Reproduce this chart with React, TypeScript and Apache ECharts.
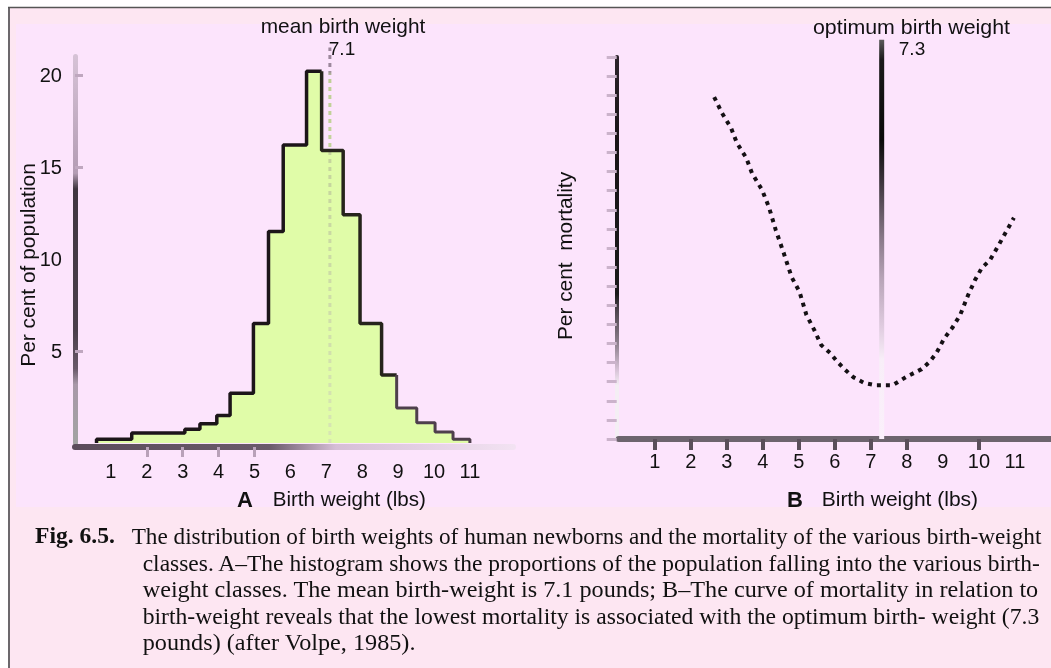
import React, { useEffect, useRef } from 'react';
import * as echarts from 'echarts';

// ---------- Panel A: distribution of birth weights ----------
const weightTickValues = [1, 2, 3, 4, 5, 6, 7, 8, 9, 10, 11];
const histEdges = [0.6, 1.58, 3.06, 3.48, 3.95, 4.32, 4.97, 5.39, 5.8, 6.45, 6.87, 7.47, 7.94, 8.54, 8.96, 9.52, 10.03, 10.53, 11.0];
const histValues = [0.2, 0.55, 0.75, 1.05, 1.5, 2.7, 6.5, 11.5, 16.2, 20.2, 15.9, 12.4, 6.5, 3.7, 1.9, 1.1, 0.6, 0.2];
const populationTickValues = [5, 10, 15, 20];
const meanWeight = 7.1;

// ---------- Panel B: mortality against birth weight ----------
const mortalityWeights = [2.65, 2.87, 3.12, 3.28, 3.54, 3.7, 3.98, 4.17, 4.36, 4.58, 4.8, 5.02, 5.21, 5.43, 5.62, 5.87, 6.07, 6.29, 6.51, 6.81, 7.12, 7.61, 7.97, 8.41, 8.63, 8.82, 9.04, 9.26, 9.48, 9.7, 9.89, 10.08, 10.31, 10.55, 10.78, 10.97];
const mortalityPercent = [8.95, 8.53, 8.14, 7.75, 7.36, 6.96, 6.52, 6.07, 5.47, 4.87, 4.24, 3.85, 3.25, 2.85, 2.46, 2.25, 2.02, 1.81, 1.62, 1.47, 1.41, 1.41, 1.62, 1.83, 2.02, 2.25, 2.64, 2.91, 3.25, 3.77, 4.16, 4.48, 4.69, 5.08, 5.47, 5.79];
const optimumWeight = 7.3;

// ---------- Texts ----------
const titleA = 'mean birth weight';
const titleB = 'optimum birth weight';
const yNameA = 'Per cent of population';
const yNameB = 'Per cent  mortality';
const xName = 'Birth weight (lbs)';
const figLabel = 'Fig. 6.5.';
const captionLines = [
  'The distribution of birth weights of human newborns and the mortality of the various birth-weight',
  'classes. A\u2013The histogram shows the proportions of the population falling into the various birth-',
  'weight classes. The mean birth-weight is 7.1 pounds; B\u2013The curve of mortality in relation to',
  'birth-weight reveals that the lowest mortality is associated with the optimum birth- weight (7.3',
  'pounds) (after Volpe, 1985).',
];

const SANS = "'Liberation Sans', Arial, sans-serif";
const SERIF = "'Liberation Serif', 'Times New Roman', serif";

function stepOutline(from: number, to: number, closeToZero: boolean) {
  const pts: number[][] = [];
  const prev = from > 0 ? histValues[from - 1] : 0;
  pts.push([histEdges[from], prev]);
  for (let i = from; i <= to; i++) pts.push([histEdges[i], histValues[i]]);
  pts.push([histEdges[to + 1], histValues[to]]);
  if (closeToZero) pts.push([histEdges[to + 1], 0]);
  return pts;
}

let measureCtx: CanvasRenderingContext2D | null = null;
function fitScale(text: string, font: string, target: number) {
  if (!measureCtx) measureCtx = document.createElement('canvas').getContext('2d');
  if (!measureCtx) return 1;
  measureCtx.font = font;
  const w = measureCtx.measureText(text).width;
  return w > 0 ? target / w : 1;
}

function textEl(text: string, x: number, y: number, font: string, align: string, extra: any = {}) {
  return {
    type: 'text',
    x,
    y,
    z: 100,
    ...extra,
    style: {
      text,
      font,
      fill: '#111111',
      textAlign: align,
      textVerticalAlign: 'middle',
      align,
      verticalAlign: 'middle',
    },
  };
}

function fittedText(text: string, x0: number, x1: number, y: number, font: string) {
  const s = fitScale(text, font, x1 - x0);
  return textEl(text, x0, y, font, 'left', { scaleX: s });
}

function fittedCenter(text: string, cx: number, width: number, y: number, font: string, rotation = 0) {
  const s = fitScale(text, font, width);
  return textEl(text, cx, y, font, 'center', { scaleX: s, rotation });
}

export default function App() {
  const ref = useRef<HTMLDivElement>(null);

  useEffect(() => {
    if (!ref.current) return;
    const chart = echarts.init(ref.current, null, { renderer: 'svg' });
    const G = echarts.graphic.LinearGradient;

    const axisAY = new G(0, 56, 0, 447, [
      { offset: 0, color: '#d6c2d6' },
      { offset: 0.3, color: '#b49cb4' },
      { offset: 0.34, color: '#403640' },
      { offset: 0.7, color: '#4a3e4a' },
      { offset: 0.8, color: '#6a5a6a' },
      { offset: 0.84, color: '#a898a8' },
      { offset: 1, color: '#a2a4a2' },
    ], true);
    const axisAX = new G(70, 0, 513, 0, [
      { offset: 0, color: '#5b4c5b' },
      { offset: 0.45, color: '#6a5a6a' },
      { offset: 0.6, color: '#d6bed6' },
      { offset: 1, color: '#f2e2f2' },
    ], true);
    const axisBY = new G(0, 57, 0, 439, [
      { offset: 0, color: '#2c242b' },
      { offset: 0.2, color: '#1a1418' },
      { offset: 0.62, color: '#1a1a1a' },
      { offset: 0.66, color: '#4a424a' },
      { offset: 0.75, color: '#8e808e' },
      { offset: 0.82, color: '#d8c4d8' },
      { offset: 0.86, color: '#f4eef4' },
      { offset: 1, color: '#f4eef4' },
    ], true);
    const meanGrad = new G(0, 47, 0, 443, [
      { offset: 0, color: '#9c889c' },
      { offset: 0.06, color: '#9c889c' },
      { offset: 0.075, color: '#bfcf96' },
      { offset: 1, color: '#d8e6b4' },
    ], true);
    const optGrad = new G(0, 40, 0, 439, [
      { offset: 0, color: '#5a5a5a' },
      { offset: 0.05, color: '#1a1a1a' },
      { offset: 0.25, color: '#0a0a0a' },
      { offset: 0.35, color: '#3a323a' },
      { offset: 0.5, color: '#8a7a8a' },
      { offset: 0.6, color: '#b8a4b8' },
      { offset: 0.72, color: '#e0cce0' },
      { offset: 0.8, color: '#f8eef8' },
      { offset: 1, color: '#fbf0fb' },
    ], true);

    const labelStyle = { fontFamily: SANS, fontSize: 20, color: '#111111' };
    const sans20 = `20px ${SANS}`;
    const sans19 = `19px ${SANS}`;
    const serif23 = `23px ${SERIF}`;
    const serifBold23 = `bold 23px ${SERIF}`;

    const captionX0 = [131.7, 142.7, 142.7, 142.7, 142.7];
    const captionX1 = [1041.7, 1041, 1039, 1040, 416];
    const captionY = [535.6, 562.6, 589.6, 616.6, 642.6];

    const graphic: any[] = [
      { type: 'rect', z: -100, shape: { x: 8, y: 7, width: 1043, height: 661 }, style: { fill: '#fde6f2' } },
      { type: 'rect', z: -99, shape: { x: 16, y: 24, width: 1035, height: 483 }, style: { fill: '#fce4fc' } },
      { type: 'line', z: -98, shape: { x1: 9, y1: 7, x2: 9, y2: 668 }, style: { stroke: '#6c686c', lineWidth: 2 } },
      { type: 'line', z: -98, shape: { x1: 8, y1: 7.5, x2: 1051, y2: 7.5 }, style: { stroke: '#555555', lineWidth: 1.5 } },
      fittedCenter(titleA, 343, 164.6, 26.4, sans20),
      textEl(String(meanWeight), 342, 48, sans19, 'center'),
      fittedCenter(titleB, 911.5, 197, 26.4, sans20),
      textEl(String(optimumWeight), 912, 48, sans19, 'center'),
      fittedCenter(yNameA, 28, 203.7, 265, sans20, Math.PI / 2),
      fittedCenter(yNameB, 565, 168.3, 256, sans20, Math.PI / 2),
      textEl('A', 245, 499, `bold 22px ${SANS}`, 'center'),
      fittedText(xName, 272.7, 426, 499, sans20),
      textEl('B', 795, 499, `bold 22px ${SANS}`, 'center'),
      fittedText(xName, 821.7, 978.3, 499, sans20),
      fittedText(figLabel, 35, 115, captionY[0], serifBold23),
    ];
    captionLines.forEach((line, i) => {
      graphic.push(fittedText(line, captionX0[i], captionX1[i], captionY[i], serif23));
    });

    const option: any = {
      animation: false,
      graphic,
      grid: [
        { left: 75, top: 56.6, width: 12.2 * 35.9, height: 21 * 18.4 },
        { left: 618.7, top: 57, width: 12 * 36.3, height: 382 },
      ],
      xAxis: [
        {
          gridIndex: 0,
          type: 'value',
          min: 0,
          max: 12.2,
          interval: 1,
          offset: 4,
          axisLine: { show: true, onZero: false, lineStyle: { color: axisAX, width: 6 } },
          axisTick: { show: true, customValues: [2, 3, 4, 5], length: 10, lineStyle: { color: '#b9a1b9', width: 3 } },
          axisLabel: {
            ...labelStyle,
            margin: 14,
            customValues: weightTickValues,
            formatter: (v: number) => (weightTickValues.indexOf(v) >= 0 ? String(v) : ''),
          },
          splitLine: { show: false },
        },
        {
          gridIndex: 1,
          type: 'value',
          min: 0,
          max: 12,
          interval: 1,
          axisLine: { show: true, onZero: false, lineStyle: { color: '#6d646e', width: 6 } },
          axisTick: { show: true, customValues: [1, 2, 3, 4, 5, 6, 7, 8, 10], length: 11, lineStyle: { color: '#5a4e5a', width: 4 } },
          axisLabel: {
            ...labelStyle,
            margin: 12,
            customValues: weightTickValues,
            formatter: (v: number) => (weightTickValues.indexOf(v) >= 0 ? String(v) : ''),
          },
          splitLine: { show: false },
        },
      ],
      yAxis: [
        {
          gridIndex: 0,
          type: 'value',
          min: 0,
          max: 21,
          interval: 5,
          axisLine: { show: true, onZero: false, lineStyle: { color: axisAY, width: 5 } },
          axisTick: { show: true, inside: true, customValues: [5, 15, 20], length: 8, lineStyle: { color: '#bfa7bf', width: 3 } },
          axisLabel: {
            ...labelStyle,
            margin: 13,
            formatter: (v: number) => (populationTickValues.indexOf(v) >= 0 ? String(v) : ''),
          },
          splitLine: { show: false },
        },
        {
          gridIndex: 1,
          type: 'value',
          min: 0,
          max: 10,
          interval: 0.5,
          offset: 2,
          axisLine: { show: true, onZero: false, lineStyle: { color: axisBY, width: 4 } },
          axisTick: { show: true, length: 10, lineStyle: { color: '#cbb3cb', width: 3 } },
          axisLabel: { show: false },
          splitLine: { show: false },
        },
      ],
      series: [
        {
          name: 'Population share',
          type: 'line',
          xAxisIndex: 0,
          yAxisIndex: 0,
          step: 'end',
          symbol: 'none',
          data: stepOutline(0, histValues.length - 1, true),
          lineStyle: { width: 0, opacity: 0 },
          areaStyle: { color: '#e0fca8', opacity: 1 },
          z: 2,
        },
        {
          name: 'Mean birth weight',
          type: 'line',
          xAxisIndex: 0,
          yAxisIndex: 0,
          symbol: 'none',
          clip: false,
          data: [[meanWeight, 0], [meanWeight, 21.5]],
          lineStyle: { type: [4, 4], width: 3, color: meanGrad },
          z: 3,
        },
        {
          name: 'Outline rising',
          type: 'line',
          xAxisIndex: 0,
          yAxisIndex: 0,
          step: 'end',
          symbol: 'none',
          data: stepOutline(0, 9, false),
          lineStyle: { width: 3.5, color: '#1c1519' },
          z: 4,
        },
        {
          name: 'Outline falling',
          type: 'line',
          xAxisIndex: 0,
          yAxisIndex: 0,
          step: 'end',
          symbol: 'none',
          data: stepOutline(10, 13, false),
          lineStyle: { width: 3.5, color: '#26241c' },
          z: 4,
        },
        {
          name: 'Outline tail',
          type: 'line',
          xAxisIndex: 0,
          yAxisIndex: 0,
          step: 'end',
          symbol: 'none',
          data: stepOutline(14, histValues.length - 1, true),
          lineStyle: { width: 3, color: '#4e3f4c' },
          z: 4,
        },
        {
          name: 'Mortality',
          type: 'line',
          xAxisIndex: 1,
          yAxisIndex: 1,
          symbol: 'none',
          data: mortalityWeights.map((w, i) => [w, mortalityPercent[i]]),
          lineStyle: { type: [4, 5], width: 4, color: '#141014', cap: 'butt' },
          z: 4,
        },
        {
          name: 'Optimum birth weight',
          type: 'line',
          xAxisIndex: 1,
          yAxisIndex: 1,
          symbol: 'none',
          clip: false,
          data: [[optimumWeight, 0], [optimumWeight, 10.45]],
          lineStyle: { width: 5, color: optGrad },
          z: 3,
        },
      ],
    };

    chart.setOption(option);
    return () => chart.dispose();
  }, []);

  return <div ref={ref} style={{ position: 'fixed', left: 0, top: 0, width: 1051, height: 668 }} />;
}
